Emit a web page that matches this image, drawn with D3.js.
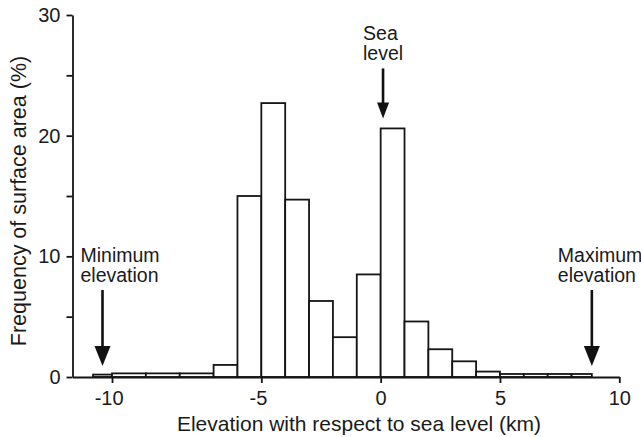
<!DOCTYPE html>
<html>
<head>
<meta charset="utf-8">
<script src="https://cdn.jsdelivr.net/npm/d3@7"></script>
<style>
  body { margin: 0; background: #fff; }
  svg { display: block; font-family: "Liberation Sans", Arial, Helvetica, sans-serif; }
</style>
</head>
<body>
<svg id="chart" width="641" height="437"></svg>
<script>
/** ------------- DATA -------------- */

// histogram bins (km) and frequency of surface area (%)
const binStart = [-11, -10, -9, -8, -7, -6, -5, -4, -3, -2, -1, 0, 1, 2, 3, 4, 5, 6, 7, 8];
const binEnd = [-10, -9, -8, -7, -6, -5, -4, -3, -2, -1, 0, 1, 2, 3, 4, 5, 6, 7, 8, 8.85];
const freq = [0.2, 0.3, 0.3, 0.3, 1.0, 15.0, 22.7, 14.7, 6.3, 3.3, 8.5, 20.6, 4.6, 2.3, 1.3, 0.45, 0.25, 0.25, 0.25, 0.25];

const xTicks = [-10, -5, 0, 5, 10];
const yTicks = [0, 5, 10, 15, 20, 25, 30];
const yLabels = [0, 10, 20, 30];

// arrow annotations: text lines and where they point (km)
const noteText = [["Minimum", "elevation"], ["Sea", "level"], ["Maximum", "elevation"]];
const noteAt = [-10.5, 0.1, 8.85];

/** ------------- SCALES -------------- */

const svg = d3.select("#chart");

// the printed axis is squeezed left of -7 km, so the scale is piecewise
const x = d3.scaleLinear()
    .domain([-12, -11, -10, -7, 10])
    .range([72.5, 93, 112, 213.6, 619.3]);

const y = d3.scaleLinear()
    .domain([0, 30])
    .range([377, 15]);

/** ------------- BARS -------------- */

svg.append("g")
    .selectAll("rect")
    .data(freq)
    .join("rect")
    .attr("x", (d, i) => x(binStart[i]))
    .attr("width", (d, i) => x(binEnd[i]) - x(binStart[i]))
    .attr("y", (d) => y(d))
    .attr("height", (d) => y(0) - y(d))
    .attr("fill", "#fff")
    .attr("stroke", "#151515")
    .attr("stroke-width", 1.8);

/** ------------- AXES -------------- */

const gx = svg.append("g")
    .attr("transform", `translate(0,${y(0)})`)
    .call(
        d3.axisBottom(x)
            .tickValues(xTicks)
            .tickSize(6)
            .tickSizeOuter(0)
            .tickFormat((d) => (d < 0 ? "-" + Math.abs(d) : d))
    );
gx.selectAll("text")
    .attr("y", 14)
    .attr("dx", (d) => (d < 0 ? "-0.17em" : 0));

const gy = svg.append("g")
    .attr("transform", `translate(${x(-12)},0)`)
    .call(
        d3.axisLeft(y)
            .tickValues(yTicks)
            .tickSize(6)
            .tickSizeOuter(0)
            .tickFormat((d) => (yLabels.includes(d) ? d : ""))
    );
gy.selectAll("text").attr("x", -12);

[gx, gy].forEach((g) => {
    g.select(".domain").attr("stroke", "#151515").attr("stroke-width", 1.8);
    g.selectAll(".tick line").attr("stroke", "#151515").attr("stroke-width", 1.8);
    g.selectAll("text")
        .attr("fill", "#1a1a1a")
        .style("font-size", "20px")
        .style("font-family", "'Liberation Sans', Arial, sans-serif");
});

svg.append("text")
    .attr("x", 359)
    .attr("y", 431)
    .attr("text-anchor", "middle")
    .attr("fill", "#1a1a1a")
    .style("font-size", "21px")
    .text("Elevation with respect to sea level (km)");

svg.append("text")
    .attr("transform", "translate(26,201) rotate(-90)")
    .attr("text-anchor", "middle")
    .attr("fill", "#1a1a1a")
    .style("font-size", "21.5px")
    .text("Frequency of surface area (%)");

/** ------------- ANNOTATIONS -------------- */

// arrow layout in px: tip gap above bar, length, head size, text offset
const arrowGap = [11, 10, 11];
const arrowLen = [76, 50, 76];
const headW = [16, 12, 16];
const headH = [20, 16, 20];
const textDx = [-22, -20, -34];

// height of the bar under each arrow
const barUnder = noteAt.map((v) => {
    const i = binStart.findIndex((s, k) => v >= s && v <= binEnd[k]);
    return i < 0 ? 0 : freq[i];
});
// min and max arrows sit on the baseline, not on the low bars
const tipBase = [0, barUnder[1], 0];

const notes = svg.append("g")
    .selectAll("g")
    .data(noteText)
    .join("g");

notes.each(function (lines, i) {
    const g = d3.select(this);
    const ax = x(noteAt[i]);
    const tip = y(tipBase[i]) - arrowGap[i];
    const top = tip - arrowLen[i];

    g.append("line")
        .attr("x1", ax)
        .attr("x2", ax)
        .attr("y1", top)
        .attr("y2", tip - headH[i] + 2)
        .attr("stroke", "#111")
        .attr("stroke-width", 2.6);

    g.append("path")
        .attr("d", `M${ax - headW[i] / 2},${tip - headH[i]}L${ax + headW[i] / 2},${tip - headH[i]}L${ax},${tip}Z`)
        .attr("fill", "#111");

    g.append("text")
        .attr("fill", "#1a1a1a")
        .style("font-size", "19.5px")
        .selectAll("tspan")
        .data(lines)
        .join("tspan")
        .attr("x", ax + textDx[i])
        .attr("y", (d, k) => top - 8 - (lines.length - 1 - k) * 20)
        .text((d) => d);
});
</script>
</body>
</html>
